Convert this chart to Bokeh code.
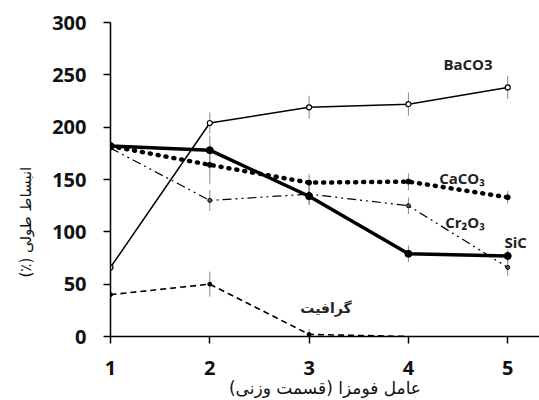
from bokeh.plotting import figure
from bokeh.models import Range1d, FixedTicker, Title
from bokeh.embed import file_html
from bokeh.resources import INLINE
from bokeh.core.properties import value

x = [1, 2, 3, 4, 5]
baco3 = [66, 204, 219, 222, 238]
sic = [182, 178, 134, 79, 77]
caco3 = [182, 164, 147, 148, 133]
cr2o3 = [180, 130, 136, 125, 66]
graphite_x = [1, 2, 3, 4]
graphite = [40, 50, 2, 0]

err_baco3 = [0, 10, 11, 11, 11]
err_sic = [0, 14, 8, 8, 6]
err_caco3 = [0, 18, 8, 8, 6]
err_cr2o3 = [0, 10, 10, 8, 8]
err_graphite = [0, 12, 5, 0]

x_ticks = [1, 2, 3, 4, 5]
y_ticks = [0, 50, 100, 150, 200, 250, 300]

p = figure(width=539, height=400, output_backend="svg", toolbar_location=None,
           x_range=Range1d(1, 5.32), y_range=Range1d(0, 300),
           min_border_left=110, min_border_right=0, min_border_top=22, min_border_bottom=62)
p.outline_line_color = None
p.grid.visible = False
p.background_fill_color = "white"
p.border_fill_color = "white"

# error bars
for xs, ys, es in [(x, baco3, err_baco3), (x, sic, err_sic), (x, caco3, err_caco3),
                   (x, cr2o3, err_cr2o3), (graphite_x, graphite, err_graphite)]:
    xx = [a for a, e in zip(xs, es) if e > 0]
    y0 = [b - e for b, e in zip(ys, es) if e > 0]
    y1 = [b + e for b, e in zip(ys, es) if e > 0]
    p.segment(x0=xx, y0=y0, x1=xx, y1=y1, line_color="#8a8a8a", line_width=1)

# series
p.line(x, baco3, line_color="black", line_width=1.5)
p.scatter(x, baco3, size=5, fill_color="white", line_color="black", line_width=1.2)

p.line(x, caco3, line_color="black", line_width=4.5, line_dash="1 7", line_cap="round")
p.scatter(x, caco3, size=5, fill_color="black", line_color="black")

p.line(x, cr2o3, line_color="black", line_width=1.2, line_dash="9 4 2 4 2 4")
p.scatter(x, cr2o3, size=4, fill_color="#555555", line_color="black")

p.line(x, sic, line_color="black", line_width=3.5)
p.scatter(x, sic, size=7, fill_color="black", line_color="black")

p.line(graphite_x, graphite, line_color="black", line_width=1.6, line_dash="6 4")
p.scatter(graphite_x[:3], graphite[:3], size=4, fill_color="black", line_color="black")

# series labels
lab_font = value("Open Sans")
p.text(x=[4.6], y=[260], text=["BaCO3"], text_font=lab_font, text_font_size="15px",
       text_font_style="bold", text_align="center", text_baseline="middle", text_color="#222222")
p.text(x=[4.54], y=[151], text=["CaCO₃"], text_font=lab_font, text_font_size="15px",
       text_font_style="bold", text_align="center", text_baseline="middle", text_color="#222222")
p.text(x=[4.57], y=[109], text=["Cr₂O₃"], text_font=lab_font, text_font_size="15px",
       text_font_style="bold", text_align="center", text_baseline="middle", text_color="#222222")
p.text(x=[5.08], y=[90], text=["SiC"], text_font=lab_font, text_font_size="15px",
       text_font_style="bold", text_align="center", text_baseline="middle", text_color="#222222")
p.text(x=[3.17], y=[27], text=["گرافیت"], text_font=value("DejaVu Sans"), text_font_size="14px",
       text_font_style="bold", text_align="center", text_baseline="middle", text_color="#222222")

# axes
for ax in (p.xaxis, p.yaxis):
    ax.axis_line_color = "black"
    ax.axis_line_width = 1.5
    ax.major_tick_line_color = "black"
    ax.major_tick_line_width = 1.5
    ax.minor_tick_line_color = None
    ax.major_label_text_font = "Open Sans"
    ax.major_label_text_font_style = "bold"
    ax.major_label_text_font_size = "20px"
    ax.major_label_text_color = "#111111"
    ax.axis_label_text_font = "DejaVu Sans"
    ax.axis_label_text_font_style = "normal"
    ax.axis_label_text_font_size = "17px"
    ax.axis_label_text_color = "#111111"
    ax.major_tick_out = 7
    ax.major_tick_in = 0

p.xaxis.ticker = FixedTicker(ticks=x_ticks)
p.yaxis.ticker = FixedTicker(ticks=y_ticks)
p.xaxis.major_label_standoff = 17
p.yaxis.major_label_standoff = 17
p.xaxis.axis_label = "\u200Fعامل فومزا (قسمت وزنی)\u200F"
p.xaxis.axis_label_standoff = 0

ytitle = Title(text="\u200Fانبساط طولی (٪)\u200F", align="left", offset=59,
               text_font="DejaVu Sans", text_font_size="15px", text_font_style="normal",
               text_color="#111111", standoff=29)
p.add_layout(ytitle, "left")

open("out.html", "w").write(file_html(p, INLINE))
